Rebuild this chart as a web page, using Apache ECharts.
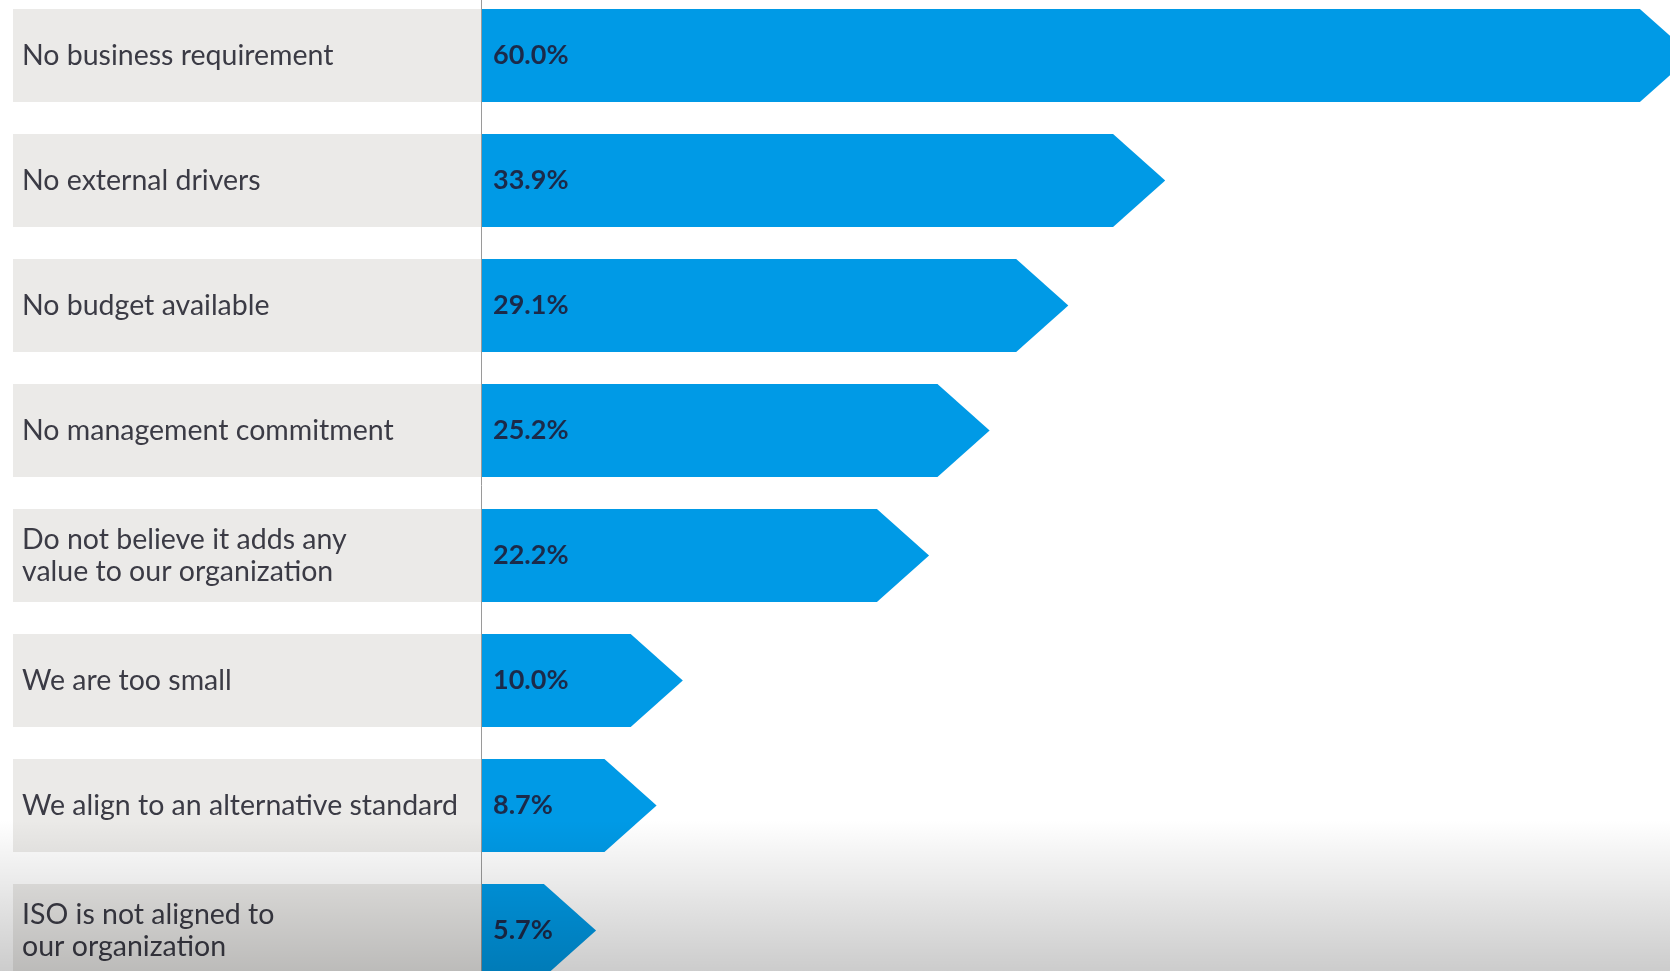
<!DOCTYPE html>
<html>
<head>
<meta charset="utf-8">
<script src="https://cdn.jsdelivr.net/npm/echarts@6/dist/echarts.min.js"></script>
<style>
  html, body { margin: 0; padding: 0; background: #ffffff; }
  #chart { width: 1670px; height: 971px; }
</style>
</head>
<body>
<div id="chart"></div>
<script>
const categories = [
  'No business requirement',
  'No external drivers',
  'No budget available',
  'No management commitment',
  'Do not believe it adds any\nvalue to our organization',
  'We are too small',
  'We align to an alternative standard',
  'ISO is not aligned to\nour organization'
];
const percentValues = [60.0, 33.9, 29.1, 25.2, 22.2, 10.0, 8.7, 5.7];

const chart = echarts.init(document.getElementById('chart'));

function renderItem(params, api) {
  const idx = api.value(0);
  const v = api.value(1);
  const base = api.coord([0, idx]);
  const tip = api.coord([v, idx]);
  const band = api.size([0, 1])[1];
  const h = band * 0.745;
  const half = h / 2;
  const depth = half * 1.12;
  const x0 = base[0], y = base[1];
  const xt = tip[0];
  return {
    type: 'group',
    children: [
      {
        type: 'rect',
        shape: { x: x0 - 468, y: y - half, width: 468, height: h },
        style: { fill: '#ebeae8' },
        z2: 1
      },
      {
        type: 'polygon',
        shape: {
          points: [
            [x0, y - half],
            [xt - depth, y - half],
            [xt, y],
            [xt - depth, y + half],
            [x0, y + half]
          ]
        },
        style: { fill: '#009ae6' },
        z2: 2
      },
      {
        type: 'text',
        x: x0 + 12,
        y: y,
        style: {
          text: v.toFixed(1) + '%',
          fill: '#1b2a4a',
          font: 'bold 27px Lato, "DejaVu Sans", sans-serif',
          verticalAlign: 'middle',
          align: 'left'
        },
        z2: 3
      }
    ]
  };
}

chart.setOption({
  animation: false,
  backgroundColor: '#ffffff',
  grid: {
    left: 481, top: -7, width: 1211, height: 1000,
    containLabel: false,
    outerBoundsMode: 'none'
  },
  xAxis: {
    type: 'value',
    min: 0,
    max: 60,
    show: false
  },
  yAxis: {
    type: 'category',
    data: categories,
    inverse: true,
    axisLine: { show: true, lineStyle: { color: '#9a9a9a', width: 1 } },
    axisTick: { show: false },
    splitLine: { show: false },
    axisLabel: {
      align: 'left',
      margin: 459,
      fontSize: 28.5,
      lineHeight: 32,
      color: '#3b3b45',
      fontFamily: 'Lato, "DejaVu Sans", sans-serif'
    },
    z: 3
  },
  graphic: [
    {
      type: 'rect',
      left: 0,
      top: 820,
      shape: { width: 1670, height: 151 },
      style: {
        fill: new echarts.graphic.LinearGradient(0, 0, 0, 1, [
          { offset: 0, color: 'rgba(0,0,0,0)' },
          { offset: 1, color: 'rgba(0,0,0,0.2)' }
        ])
      },
      silent: true,
      z: 100
    }
  ],
  series: [
    {
      type: 'custom',
      renderItem: renderItem,
      clip: false,
      encode: { x: 1, y: 0 },
      data: percentValues.map((v, i) => [i, v]),
      z: 2
    }
  ]
});
</script>
</body>
</html>
